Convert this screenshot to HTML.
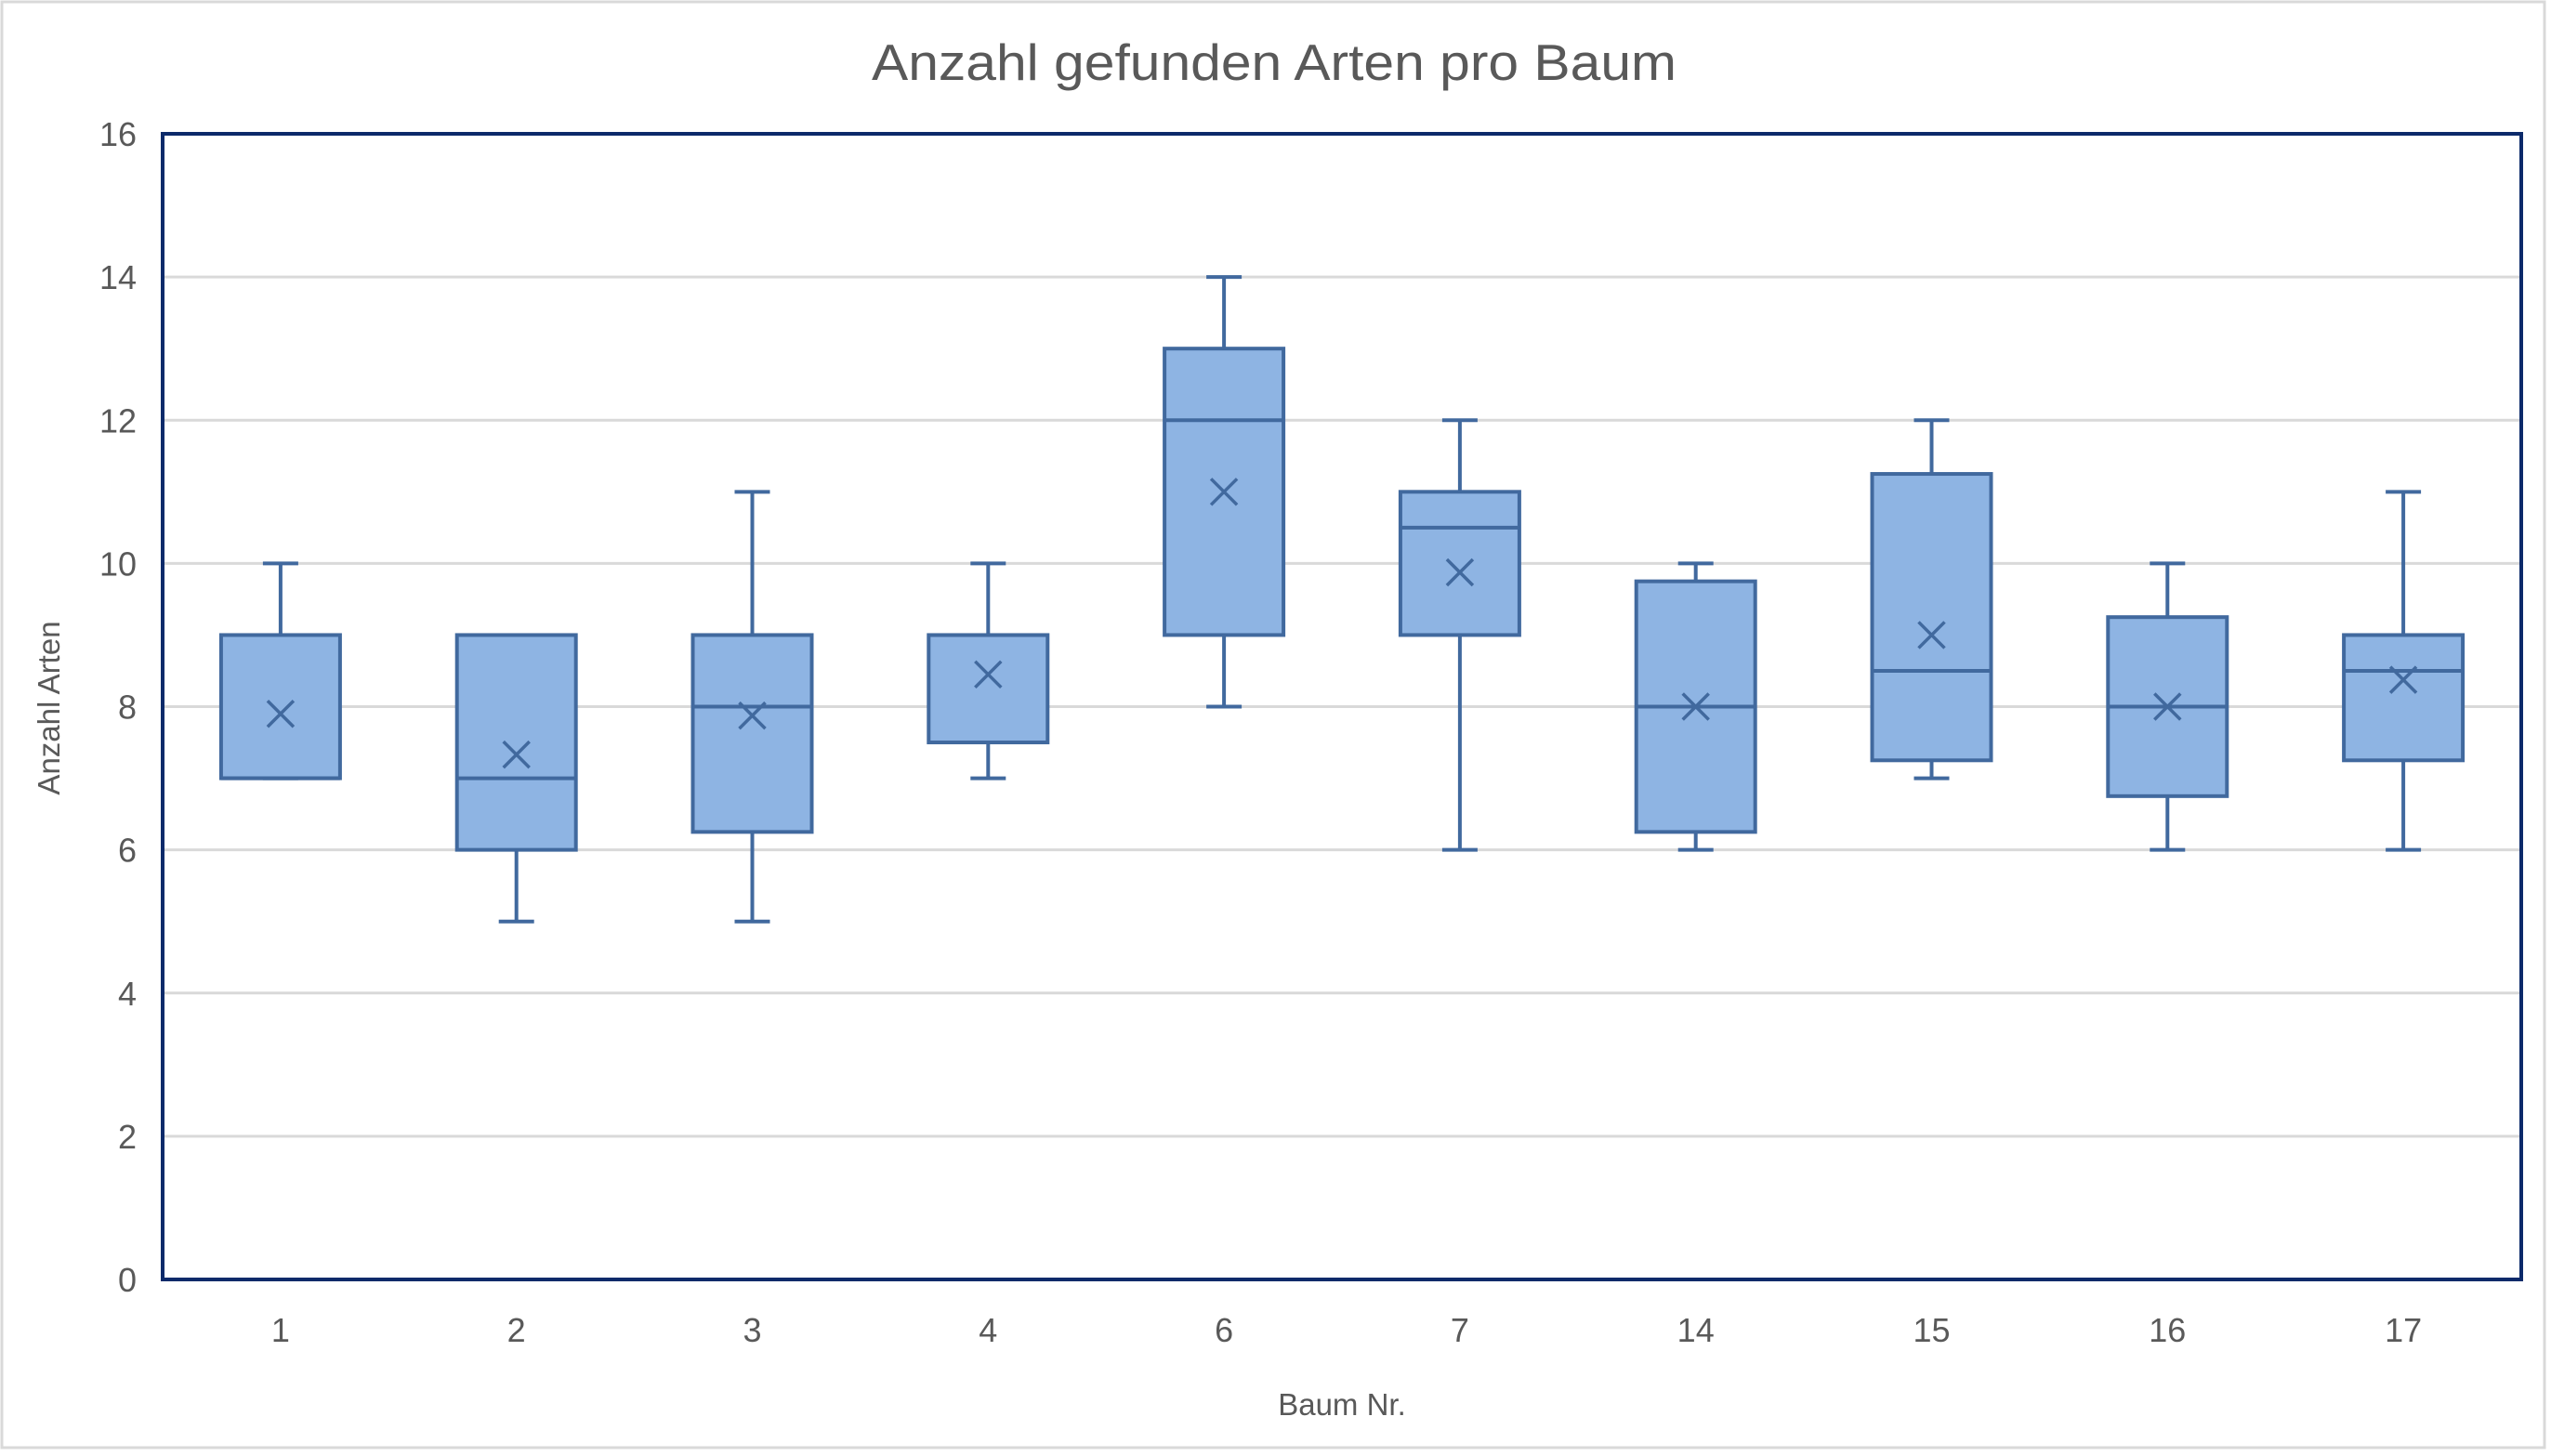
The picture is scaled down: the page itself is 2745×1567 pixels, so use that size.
<!DOCTYPE html>
<html><head><meta charset="utf-8"><style>
html,body{margin:0;padding:0;background:#fff;}
svg{display:block;font-family:"Liberation Sans",sans-serif;}
</style></head><body>
<svg id="chart" width="2745" height="1567" viewBox="0 0 2745 1567" xmlns="http://www.w3.org/2000/svg">
<rect x="2" y="2" width="2736" height="1556" fill="#fff" stroke="#d9d9d9" stroke-width="3"/>
<text x="1371" y="86" text-anchor="middle" font-size="55" fill="#595959" textLength="866" lengthAdjust="spacingAndGlyphs">Anzahl gefunden Arten pro Baum</text>
<g id="grid"></g>
<g id="yticks"></g>
<g id="xticks"></g>
<g id="boxes"></g>
<rect x="175" y="144" width="2538" height="1233" fill="none" stroke="#0c2a6a" stroke-width="4"/>
<text transform="translate(64,762) rotate(-90)" text-anchor="middle" font-size="33" fill="#595959">Anzahl Arten</text>
<text x="1444" y="1523" text-anchor="middle" font-size="33" fill="#595959">Baum Nr.</text>
</svg>
<script>
const categories = ["1","2","3","4","6","7","14","15","16","17"];
const mins    = [7, 5, 5, 7, 8, 6, 6, 7, 6, 6];
const q1s     = [7, 6, 6.25, 7.5, 9, 9, 6.25, 7.25, 6.75, 7.25];
const medians = [7, 7, 8, 9, 12, 10.5, 8, 8.5, 8, 8.5];
const q3s     = [9, 9, 9, 9, 13, 11, 9.75, 11.25, 9.25, 9];
const maxs    = [10, 9, 11, 10, 14, 12, 10, 12, 10, 11];
const means   = [7.9, 7.33, 7.875, 8.45, 11, 9.875, 8, 9, 8, 8.375];
const yTicks  = [0, 2, 4, 6, 8, 10, 12, 14, 16];

const NS = "http://www.w3.org/2000/svg";
const L = 175, R = 2713, T = 144, B = 1377;
const yMax = 16;
const y = v => B - (v / yMax) * (B - T);
const band = (R - L) / categories.length;
const x = i => L + band * (i + 0.5);
function mk(parent, tag, attrs) {
  const e = document.createElementNS(NS, tag);
  for (const k in attrs) e.setAttribute(k, attrs[k]);
  parent.appendChild(e);
  return e;
}
const grid = document.getElementById('grid');
const yt = document.getElementById('yticks');
yTicks.forEach(t => {
  if (t > 0 && t < yMax) {
    const g = mk(grid, 'line', {x1: L, x2: R, y1: y(t), y2: y(t), stroke: '#d9d9d9', 'stroke-width': 3});
    
    
  }
  const tx = mk(yt, 'text', {x: 147, y: y(t) + 13, 'text-anchor': 'end', 'font-size': 36, fill: '#595959'});
  tx.textContent = t;
  
  
});
const xt = document.getElementById('xticks');
const bx = document.getElementById('boxes');
const stroke = '#41699e', sw = 4, bw = 128, cap = 38, mk2 = 14;
categories.forEach((c, i) => {
  const cx = x(i);
  const tx = mk(xt, 'text', {x: cx, y: 1444, 'text-anchor': 'middle', 'font-size': 36, fill: '#595959'});
  tx.textContent = c;
  
  
  const g = mk(bx, 'g', {});
  
  
  const ln = (a) => mk(g, 'line', Object.assign({stroke: stroke, 'stroke-width': sw}, a));
  const w1 = ln({x1: cx, x2: cx, y1: y(maxs[i]), y2: y(q3s[i])});
  
  
  const c1 = ln({x1: cx - cap/2, x2: cx + cap/2, y1: y(maxs[i]), y2: y(maxs[i])});
  
  
  const w2 = ln({x1: cx, x2: cx, y1: y(q1s[i]), y2: y(mins[i])});
  
  
  const c2 = ln({x1: cx - cap/2, x2: cx + cap/2, y1: y(mins[i]), y2: y(mins[i])});
  
  
  const r = mk(g, 'rect', {x: cx - bw/2, y: y(q3s[i]), width: bw, height: y(q1s[i]) - y(q3s[i]), fill: '#8eb4e3', stroke: stroke, 'stroke-width': sw});
  
  
  const m = ln({x1: cx - bw/2, x2: cx + bw/2, y1: y(medians[i]), y2: y(medians[i])});
  
  
  const my = y(means[i]);
  const p = mk(g, 'path', {d: `M${cx-mk2},${my-mk2}L${cx+mk2},${my+mk2}M${cx-mk2},${my+mk2}L${cx+mk2},${my-mk2}`, stroke: stroke, 'stroke-width': 3.5, fill: 'none'});
  
  
});
</script>
</body></html>
